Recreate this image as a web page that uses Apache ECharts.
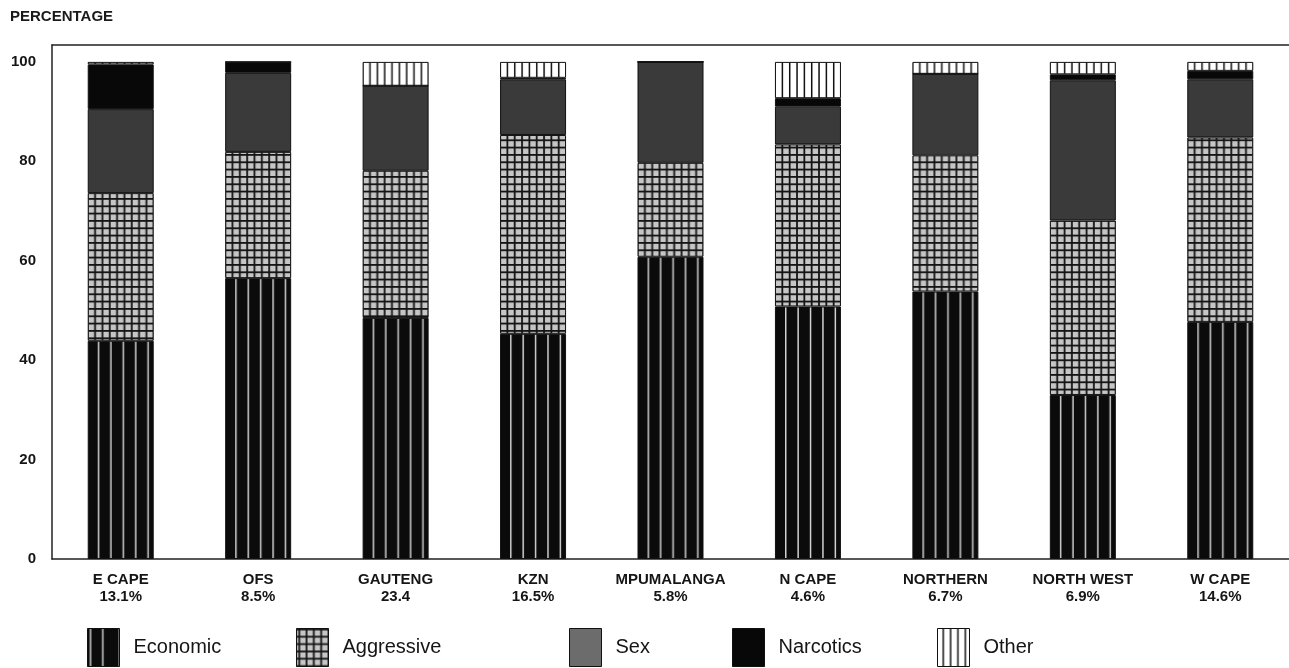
<!DOCTYPE html>
<html>
<head>
<meta charset="utf-8">
<script src="https://cdn.jsdelivr.net/npm/echarts@6/dist/echarts.min.js"></script>
<style>
html,body{margin:0;padding:0;background:#fff;}
#chart{width:1289px;height:668px;}
</style>
</head>
<body>
<div id="chart"></div>
<script>
// ---- data ----
const categories = ['E CAPE', 'OFS', 'GAUTENG', 'KZN', 'MPUMALANGA', 'N CAPE', 'NORTHERN', 'NORTH WEST', 'W CAPE'];
const shares = ['13.1%', '8.5%', '23.4', '16.5%', '5.8%', '4.6%', '6.7%', '6.9%', '14.6%'];
const economic   = [43.9, 56.5, 48.5, 45.3, 60.8, 50.8, 53.8, 33.0, 47.7];
const aggressive = [29.7, 25.4, 29.6, 40.0, 18.9, 32.6, 27.4, 35.1, 37.1];
const sex        = [16.9, 15.9, 17.1, 11.2, 20.3, 7.6, 16.4, 28.2, 11.7];
const narcotics  = [9.0, 2.2, 0, 0.3, 0, 1.7, 0, 1.2, 1.7];
const other      = [0.5, 0, 4.8, 3.2, 0, 7.3, 2.4, 2.5, 1.8];
const yTicks = [0, 20, 40, 60, 80, 100];
const seriesNames = ['Economic', 'Aggressive', 'Sex', 'Narcotics', 'Other'];

// ---- pattern tiles ----
const BAR_W = 66;
function tile(w, h, draw) {
  const c = document.createElement('canvas');
  c.width = w; c.height = h;
  draw(c.getContext('2d'), w, h);
  return c;
}
const econTile = tile(BAR_W, 4, (ctx, w, h) => {
  ctx.fillStyle = '#0b0b0b'; ctx.fillRect(0, 0, w, h);
  ctx.fillStyle = '#d0d0d0';
  for (let k = 0; k < 5; k++) ctx.fillRect(10 + k * 12.4, 0, 1.5, h);
});
const aggrTile = tile(BAR_W, 22, (ctx, w, h) => {
  ctx.fillStyle = '#c6c6c6'; ctx.fillRect(0, 0, w, h);
  ctx.fillStyle = '#141414';
  for (let k = 0; k <= 9; k++) ctx.fillRect(k * (w / 9) - 0.9, 0, 1.8, h);
  for (let k = 0; k < 3; k++) ctx.fillRect(0, k * (h / 3), w, 1.8);
});
const otherTile = tile(BAR_W, 4, (ctx, w, h) => {
  ctx.fillStyle = '#ffffff'; ctx.fillRect(0, 0, w, h);
  ctx.fillStyle = '#111111';
  for (let k = 0; k <= 9; k++) ctx.fillRect(k * (w / 9) - 0.7, 0, 1.5, h);
});
function pat(img, x) { return { image: img, repeat: 'repeat', x: x, y: 0 }; }
const solid = { Sex: '#3a3a3a', Narcotics: '#080808' };
const tiles = { Economic: econTile, Aggressive: aggrTile, Other: otherTile };
function colorFor(name, x) {
  return tiles[name] ? pat(tiles[name], x) : solid[name];
}

const values = { Economic: economic, Aggressive: aggressive, Sex: sex, Narcotics: narcotics, Other: other };
const FONT = "'Liberation Sans', Arial, Helvetica, sans-serif";

const chart = echarts.init(document.getElementById('chart'), null, { renderer: 'canvas' });

const legendLefts = [87, 296, 569, 732, 937];

function buildSeries(barLefts) {
  return seriesNames.map(name => ({
    name: name,
    type: 'bar',
    stack: 'total',
    barWidth: BAR_W,
    xAxisIndex: 0,
    itemStyle: { color: colorFor(name, 0), borderColor: '#111', borderWidth: 1 },
    emphasis: { disabled: true },
    data: values[name].map((v, i) => ({
      value: v,
      itemStyle: { color: colorFor(name, barLefts ? barLefts[i] : 0) }
    }))
  }));
}

const option = {
  animation: false,
  backgroundColor: '#ffffff',
  title: {
    text: 'PERCENTAGE', left: 10, top: 9, padding: 0,
    textStyle: { fontFamily: FONT, fontSize: 15, fontWeight: 'bold', color: '#1a1a1a' }
  },
  grid: { left: 52, right: 0, top: 45, bottom: 109, containLabel: false },
  legend: seriesNames.map((name, i) => ({
    data: [{
      name: name,
      itemStyle: {
        color: name === 'Sex' ? '#6c6c6c' : colorFor(name, legendLefts[i]),
        borderColor: '#111', borderWidth: 1
      }
    }],
    left: legendLefts[i], top: 628, padding: 0,
    icon: 'rect', itemWidth: 32, itemHeight: 38,
    selectedMode: false,
    textStyle: { fontFamily: FONT, fontSize: 20, color: '#151515', padding: [0, 0, 2, 9] }
  })),
  xAxis: [{
    type: 'category', data: categories, position: 'bottom',
    axisLine: { show: true, lineStyle: { color: '#222', width: 1.5 } },
    axisTick: { show: false },
    axisLabel: {
      interval: 0, margin: 12,
      fontFamily: FONT, fontSize: 15, fontWeight: 'bold', color: '#151515', lineHeight: 17,
      formatter: (v, i) => v + '\n' + shares[i]
    }
  }, {
    type: 'category', data: categories, position: 'top',
    axisLine: { show: true, onZero: false, lineStyle: { color: '#222', width: 1.5 } },
    axisTick: { show: false }, axisLabel: { show: false }
  }],
  yAxis: {
    type: 'value', min: 0, max: 103.4, interval: 20,
    axisLine: { show: true, lineStyle: { color: '#222', width: 1.5 } },
    axisTick: { show: false },
    splitLine: { show: false },
    axisLabel: {
      margin: 16, fontFamily: FONT, fontSize: 15, fontWeight: 'bold', color: '#151515',
      showMaxLabel: false,
      formatter: v => (yTicks.indexOf(v) >= 0 ? String(v) : '')
    }
  },
  series: buildSeries(null)
};
chart.setOption(option);

// align pattern tiles to each bar's left edge
const barLefts = categories.map((c, i) => chart.convertToPixel({ xAxisIndex: 0 }, i) - BAR_W / 2);
chart.setOption({ series: buildSeries(barLefts) });
</script>
</body>
</html>
